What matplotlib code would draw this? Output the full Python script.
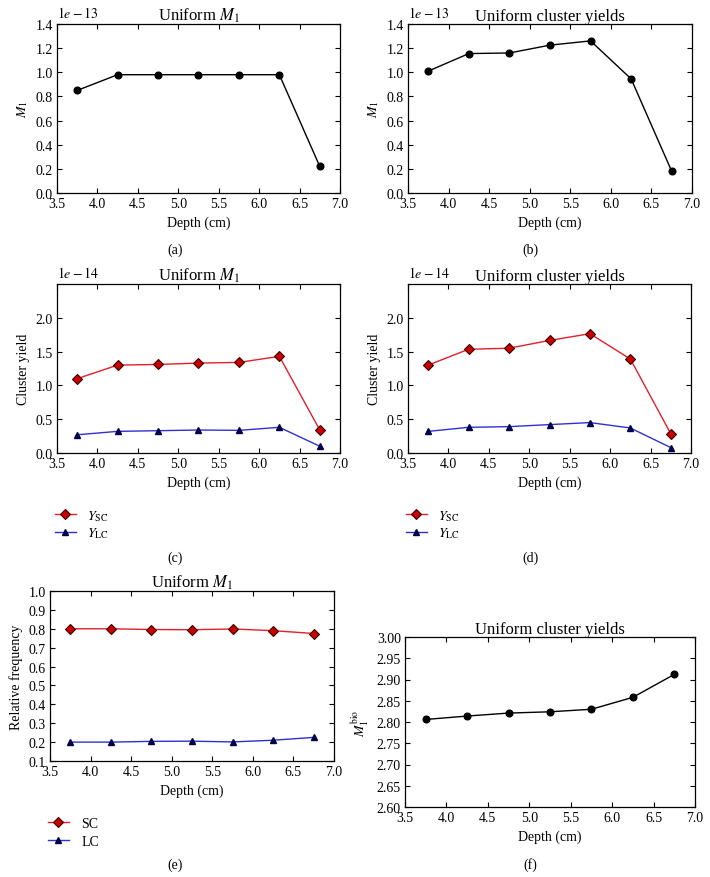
import matplotlib
matplotlib.use("Agg")
import matplotlib.pyplot as plt

plt.rcParams["font.family"] = ["Liberation Serif", "DejaVu Serif"]
plt.rcParams["mathtext.fontset"] = "stix"
plt.rcParams["font.size"] = 10

depth = [3.75, 4.25, 4.75, 5.25, 5.75, 6.25, 6.75]
x_ticks = [3.5, 4.0, 4.5, 5.0, 5.5, 6.0, 6.5, 7.0]

# (a) uniform M1, values in units of 1e-13
m1_uniform = [0.85, 0.98, 0.98, 0.98, 0.98, 0.98, 0.22]
# (b) uniform cluster yields, units of 1e-13
m1_yields = [1.01, 1.155, 1.16, 1.225, 1.26, 0.945, 0.18]
# (c) cluster yields under uniform M1, units of 1e-14
ysc_c = [1.10, 1.30, 1.31, 1.33, 1.34, 1.43, 0.34]
ylc_c = [0.27, 0.32, 0.33, 0.34, 0.335, 0.38, 0.10]
# (d) cluster yields under uniform cluster yields, units of 1e-14
ysc_d = [1.30, 1.535, 1.55, 1.665, 1.765, 1.39, 0.285]
ylc_d = [0.32, 0.38, 0.39, 0.42, 0.45, 0.37, 0.08]
# (e) relative frequency
sc_freq = [0.800, 0.800, 0.796, 0.795, 0.799, 0.790, 0.775]
lc_freq = [0.200, 0.200, 0.204, 0.205, 0.201, 0.210, 0.225]
# (f) M1 bio
m1_bio = [2.806, 2.814, 2.821, 2.824, 2.830, 2.858, 2.912]

RED = "#e0202a"
BLUE = "#3030d0"
sc_style = dict(color=RED, lw=1.0, marker="D", ms=5.2, mfc="#c80000", mec="#400000", mew=0.8)
lc_style = dict(color=BLUE, lw=1.0, marker="^", ms=5.0, mfc="#000060", mec="#000040")
black_style = dict(color="black", lw=1.0, marker="o", ms=4.8)

fig = plt.figure(figsize=(7.1, 8.78), dpi=100)


def style_axes(ax):
    ax.set_xlim(3.5, 7.0)
    ax.set_xticks(x_ticks)
    ax.set_xticklabels([f"{t:.1f}" for t in x_ticks])
    ax.tick_params(direction="in", top=True, right=True, length=3.5, width=0.8, pad=3)
    ax.set_xlabel("Depth (cm)", labelpad=4)
    for s in ax.spines.values():
        s.set_linewidth(0.9)


def offset_label(ax, txt):
    ax.text(0.0, 1.025, txt, transform=ax.transAxes, ha="left", va="bottom")


def bottom_legend(ax, x_px, y_px, textpad, spacing):
    ax.legend(loc="upper left", bbox_to_anchor=(x_px / 710, 1 - y_px / 878),
              bbox_transform=fig.transFigure, frameon=False, borderpad=0,
              borderaxespad=0, handlelength=1.5, handletextpad=textpad,
              labelspacing=spacing)


W = 283 / 710
H = 169 / 878

# (a)
ax_a = fig.add_axes([57 / 710, 1 - 194 / 878, W, H])
ax_a.plot(depth, m1_uniform, **black_style)
style_axes(ax_a)
ax_a.set_ylim(0, 1.4)
ax_a.set_yticks([0.0, 0.2, 0.4, 0.6, 0.8, 1.0, 1.2, 1.4])
ax_a.set_ylabel(r"$M_1$", labelpad=4)
ax_a.set_title(r"Uniform $M_1$", pad=3)
offset_label(ax_a, r"$1e-13$")

# (b)
ax_b = fig.add_axes([408 / 710, 1 - 194 / 878, W + 1 / 710, H])
ax_b.plot(depth, m1_yields, **black_style)
style_axes(ax_b)
ax_b.set_ylim(0, 1.4)
ax_b.set_yticks([0.0, 0.2, 0.4, 0.6, 0.8, 1.0, 1.2, 1.4])
ax_b.set_ylabel(r"$M_1$", labelpad=4)
ax_b.set_title("Uniform cluster yields", pad=3)
offset_label(ax_b, r"$1e-13$")

# (c)
ax_c = fig.add_axes([57 / 710, 1 - 454 / 878, W, H])
ax_c.plot(depth, ysc_c, label=r"$Y_{\mathrm{SC}}$", **sc_style)
ax_c.plot(depth, ylc_c, label=r"$Y_{\mathrm{LC}}$", **lc_style)
style_axes(ax_c)
ax_c.set_ylim(0, 2.5)
ax_c.set_yticks([0.0, 0.5, 1.0, 1.5, 2.0])
ax_c.set_ylabel("Cluster yield", labelpad=4)
ax_c.set_title(r"Uniform $M_1$", pad=3)
offset_label(ax_c, r"$1e-14$")
bottom_legend(ax_c, 55, 509, 0.8, 0.2)

# (d)
ax_d = fig.add_axes([408 / 710, 1 - 454 / 878, W, H])
ax_d.plot(depth, ysc_d, label=r"$Y_{\mathrm{SC}}$", **sc_style)
ax_d.plot(depth, ylc_d, label=r"$Y_{\mathrm{LC}}$", **lc_style)
style_axes(ax_d)
ax_d.set_ylim(0, 2.5)
ax_d.set_yticks([0.0, 0.5, 1.0, 1.5, 2.0])
ax_d.set_ylabel("Cluster yield", labelpad=4)
ax_d.set_title("Uniform cluster yields", pad=3)
offset_label(ax_d, r"$1e-14$")
bottom_legend(ax_d, 406, 509, 0.8, 0.2)

# (e)
ax_e = fig.add_axes([50 / 710, 1 - 762 / 878, 284 / 710, 170 / 878])
ax_e.plot(depth, sc_freq, label="SC", **sc_style)
ax_e.plot(depth, lc_freq, label="LC", **lc_style)
style_axes(ax_e)
ax_e.set_ylim(0.1, 1.0)
ax_e.set_yticks([0.1, 0.2, 0.3, 0.4, 0.5, 0.6, 0.7, 0.8, 0.9, 1.0])
ax_e.set_ylabel("Relative frequency", labelpad=4)
ax_e.set_title(r"Uniform $M_1$", pad=3)
bottom_legend(ax_e, 48, 818, 0.9, 0.35)

# (f)
ax_f = fig.add_axes([405 / 710, 1 - 808 / 878, 290 / 710, 170 / 878])
ax_f.plot(depth, m1_bio, **black_style)
style_axes(ax_f)
ax_f.set_ylim(2.60, 3.00)
ax_f.set_yticks([2.60, 2.65, 2.70, 2.75, 2.80, 2.85, 2.90, 2.95, 3.00])
ax_f.set_yticklabels([f"{v:.2f}" for v in ax_f.get_yticks()])
ax_f.set_ylabel(r"$M_1^{\mathrm{bio}}$", labelpad=4)
ax_f.set_title("Uniform cluster yields", pad=3)

# captions
for x, y, lab in [(0.247, 250, "(a)"), (0.747, 250, "(b)"),
                  (0.247, 558, "(c)"), (0.747, 558, "(d)"),
                  (0.247, 865, "(e)"), (0.747, 865, "(f)")]:
    fig.text(x, 1 - y / 878, lab, ha="center", va="center")

fig.savefig("out.png", dpi=100)
